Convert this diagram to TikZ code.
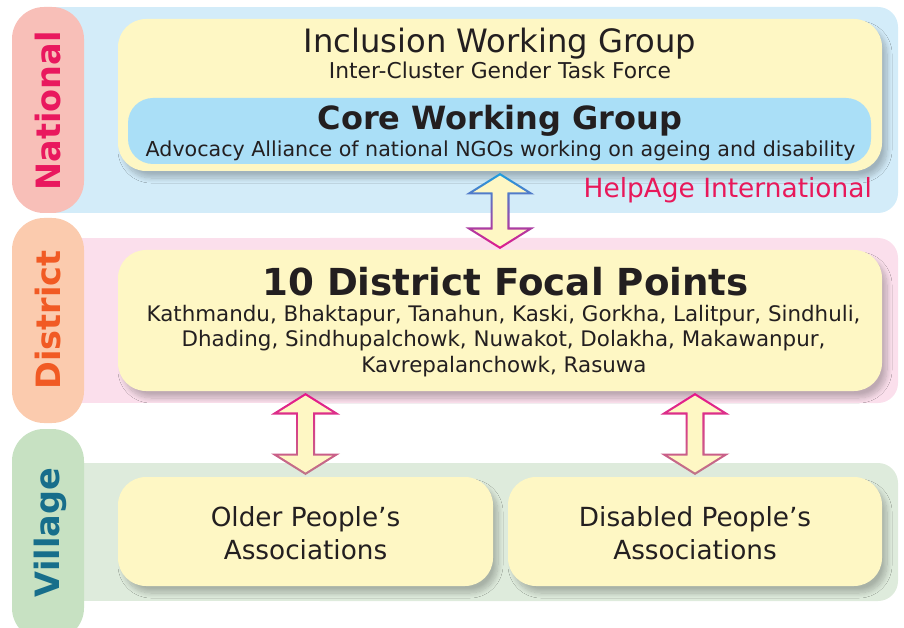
\documentclass[tikz,border=0pt]{standalone}
\usepackage{fontspec}
\setmainfont{DejaVu Sans}
\usetikzlibrary{shadows.blur}

\definecolor{natband}{HTML}{D3ECF9}
\definecolor{disband}{HTML}{FBDFEC}
\definecolor{vilband}{HTML}{DEEBDC}
\definecolor{natpill}{HTML}{F8BFB8}
\definecolor{dispill}{HTML}{FBCBAE}
\definecolor{vilpill}{HTML}{C7E1C2}
\definecolor{nattext}{HTML}{E9185E}
\definecolor{distext}{HTML}{F15A24}
\definecolor{viltext}{HTML}{176E8B}
\definecolor{boxyellow}{HTML}{FEF7C4}
\definecolor{coreblue}{HTML}{AADFF7}
\definecolor{ink}{HTML}{231F20}
\definecolor{helpred}{HTML}{E8185A}
\definecolor{arrblue}{HTML}{1AA0E0}
\definecolor{arrmag}{HTML}{E6168A}
\definecolor{arrrose}{HTML}{C07888}

% double-headed block arrow with a shaded outline
% #1 name, #2 centre x, #3 top y, #4 height, #5 shading keys
\newcommand\linkarrow[5]{%
  \begin{scope}[shift={(#2,#3)}]
    \coordinate (#1) at (0,0);
    \pgfmathsetmacro\ArH{#4}
    \pgfmathsetmacro\ArW{34.5}
    \pgfmathsetmacro\Arw{9.5}
    \pgfmathsetmacro\Arh{21.5}
    \pgfmathsetmacro\Ard{2.2}
    \pgfmathsetmacro\ArA{\Ard*sqrt(\ArW*\ArW+\Arh*\Arh)/\ArW}
    \pgfmathsetmacro\ArX{(\Arh-\Ard-\ArA)*\ArW/\Arh}
    \pgfmathsetmacro\ArIw{\Arw-\Ard}
    \pgfmathsetmacro\ArTop{\Arh-\Ard}
    \pgfmathsetmacro\ArBot{\ArH-\Arh+\Ard}
    \pgfmathsetmacro\ArLow{\ArH-\Arh}
    \pgfmathsetmacro\ArTip{\ArH-\ArA}
    \begin{scope}
      \clip (0,0) -- (\ArW,\Arh) -- (\Arw,\Arh) -- (\Arw,\ArLow) -- (\ArW,\ArLow)
        -- (0,\ArH) -- (-\ArW,\ArLow) -- (-\Arw,\ArLow) -- (-\Arw,\Arh) -- (-\ArW,\Arh) -- cycle;
      \shade[#5] (-\ArW-1,-1) rectangle (\ArW+1,\ArH+1);
    \end{scope}
    \fill[boxyellow] (0,\ArA) -- (\ArX,\ArTop) -- (\ArIw,\ArTop) -- (\ArIw,\ArBot) -- (\ArX,\ArBot)
      -- (0,\ArTip) -- (-\ArX,\ArBot) -- (-\ArIw,\ArBot) -- (-\ArIw,\ArTop) -- (-\ArX,\ArTop) -- cycle;
  \end{scope}}

\tikzset{
  pill/.style={rounded corners=32pt},
  levellabel/.style={rotate=90, anchor=base, font=\fontsize{33.5}{40}\selectfont\bfseries},
  ybox/.style={fill=boxyellow, rounded corners=28pt, inner sep=0pt,
    blur shadow={shadow xshift=5pt, shadow yshift=-7pt, shadow blur radius=5pt,
      shadow blur steps=10, shadow opacity=24}},
  txt/.style={anchor=base, text=ink, inner sep=0pt},
  listfont/.style={font=\fontsize{21.4}{26}\selectfont},
}

\begin{document}
\begin{tikzpicture}[x=1pt, y=-1pt]
  \useasboundingbox (0,0) rectangle (904,628);
  \clip (0,0) rectangle (904,628);

  % level bands
  \fill[natband] (50,7) rectangle (500,213);
  \fill[natband, rounded corners=20pt] (300,7) rectangle (898,213);
  \fill[disband] (50,238) rectangle (500,403);
  \fill[disband, rounded corners=20pt] (300,238) rectangle (898,403);
  \fill[vilband] (50,463) rectangle (500,601);
  \fill[vilband, rounded corners=20pt] (300,463) rectangle (898,601);

  % level tabs
  \fill[natpill, pill] (12,7) rectangle (84,213);
  \fill[dispill, pill] (12,218) rectangle (84,423);
  \fill[vilpill, pill] (12,429) rectangle (84,640);
  \node[levellabel, text=nattext] (lnat) at (60,111) {National};
  \node[levellabel, text=distext] (ldis) at (60,320) {District};
  \node[levellabel, text=viltext] (lvil) at (59,532.5) {Village};

  % national level
  \node[ybox, minimum width=764pt, minimum height=152pt] (iwg) at (500,95) {};
  \node[fill=coreblue, rounded corners=25pt, minimum width=743pt, minimum height=66pt] (core) at (499.5,131) {};
  \node[txt, font=\fontsize{32.2}{38}\selectfont] (iwgt) at (500,53) {Inclusion Working Group};
  \node[txt, font=\fontsize{21.8}{26}\selectfont] (iwgs) at (500,78.3) {Inter-Cluster Gender Task Force};
  \node[txt, font=\fontsize{32}{38}\selectfont\bfseries] (coret) at (500,130) {Core Working Group};
  \node[txt, font=\fontsize{20.6}{25}\selectfont] (cores) at (500.5,156.7) {Advocacy Alliance of national NGOs working on ageing and disability};
  \node[anchor=base east, inner sep=0pt, text=helpred, font=\fontsize{26.4}{32}\selectfont] (helpage) at (872,198) {HelpAge International};

  % district level
  \node[ybox, minimum width=764pt, minimum height=141pt] (dfp) at (500,320.5) {};
  \node[txt, font=\fontsize{37.2}{44}\selectfont\bfseries] (dfpt) at (505.5,295) {10 District Focal Points};
  \node[txt, listfont] (dfp1) at (503.5,321) {Kathmandu, Bhaktapur, Tanahun, Kaski, Gorkha, Lalitpur, Sindhuli,};
  \node[txt, listfont] (dfp2) at (503.5,346.7) {Dhading, Sindhupalchowk, Nuwakot, Dolakha, Makawanpur,};
  \node[txt, listfont] (dfp3) at (504,372.3) {Kavrepalanchowk, Rasuwa};

  % village level
  \node[ybox, minimum width=375pt, minimum height=109pt] (opa) at (305.5,531.5) {};
  \node[ybox, minimum width=374pt, minimum height=109pt] (dpa) at (695,531.5) {};
  \node[txt, font=\fontsize{26.3}{31}\selectfont] (opa1) at (305.5,526) {Older People’s};
  \node[txt, font=\fontsize{26.3}{31}\selectfont] (opa2) at (305.5,559) {Associations};
  \node[txt, font=\fontsize{26.3}{31}\selectfont] (dpa1) at (695,526) {Disabled People’s};
  \node[txt, font=\fontsize{26.3}{31}\selectfont] (dpa2) at (695,559) {Associations};

  % links between levels
  \linkarrow{natlink}{500}{173}{76}{top color=arrblue, middle color=arrmag!55!arrblue, bottom color=arrmag}
  \linkarrow{oplink}{305.5}{393}{82}{top color=arrmag, middle color=arrmag, bottom color=arrrose}
  \linkarrow{dplink}{695}{393}{82}{top color=arrmag, middle color=arrmag, bottom color=arrrose}
\end{tikzpicture}
\end{document}
